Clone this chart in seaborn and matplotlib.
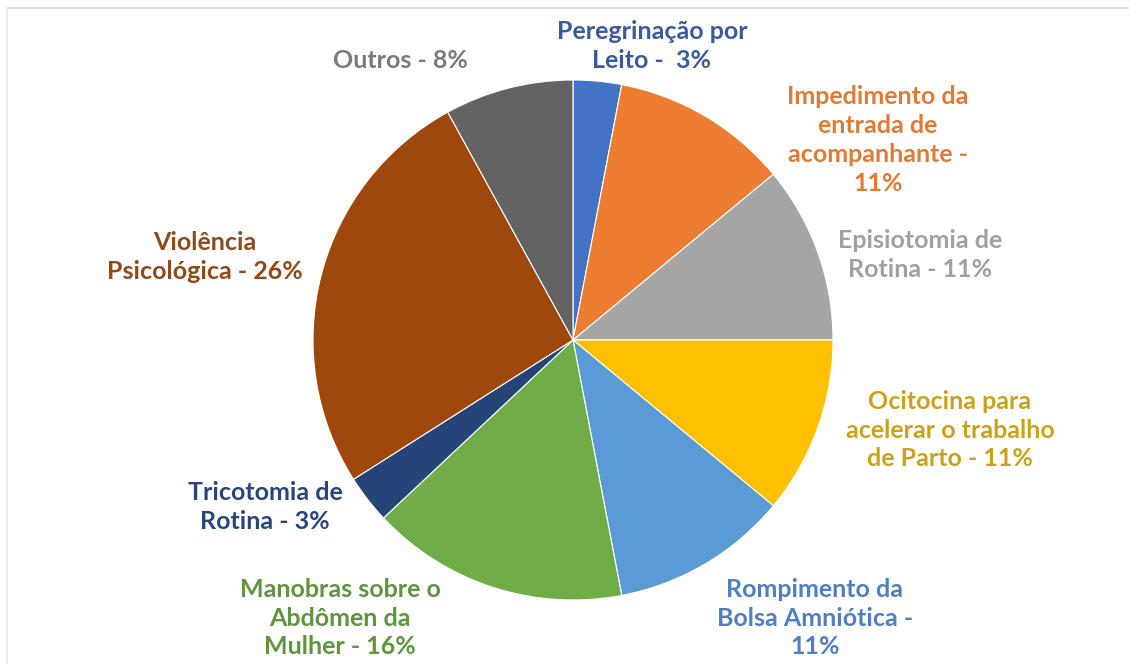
import matplotlib
matplotlib.use("Agg")
import matplotlib.pyplot as plt
import seaborn as sns

sns.set_style("white")
plt.rcParams['font.family'] = ['Lato', 'DejaVu Sans']

# ---- data ----
categories = [
    "Peregrinação por\nLeito -  3%",
    "Impedimento da\nentrada de\nacompanhante -\n11%",
    "Episiotomia de\nRotina - 11%",
    "Ocitocina para\nacelerar o trabalho\nde Parto - 11%",
    "Rompimento da\nBolsa Amniótica -\n11%",
    "Manobras sobre o\nAbdômen da\nMulher - 16%",
    "Tricotomia de\nRotina - 3%",
    "Violência\nPsicológica - 26%",
    "Outros - 8%",
]
values = [3, 11, 11, 11, 11, 16, 3, 26, 8]

slice_colors = ["#4472C4", "#ED7D31", "#A5A5A5", "#FFC000", "#5B9BD5",
                "#70AD47", "#264478", "#9E480E", "#636363"]
text_colors = ["#3B5A9E", "#E07A35", "#A0A0A0", "#C9A21A", "#4F7FC0",
               "#5F9440", "#2A457A", "#8E4A1A", "#7A7A7A"]
# label centre positions (pixels, origin bottom-left)
label_pos = [(652, 618), (878, 524), (920, 409), (950, 234), (815, 46),
             (340, 46), (265, 157), (205, 407), (400, 604)]

W, H = 1129, 664
fig = plt.figure(figsize=(W / 100, H / 100), dpi=100)
ax = fig.add_axes([0, 0, 1, 1])

ax.pie(values, colors=slice_colors, startangle=90, counterclock=False,
       center=(573, 324), radius=260,
       wedgeprops=dict(edgecolor="white", linewidth=0.8))

for lab, (x, y), c in zip(categories, label_pos, text_colors):
    ax.text(x, y, lab, ha="center", va="center", color=c, fontsize=18,
            fontweight="bold", linespacing=1.3)

ax.set_xlim(0, W)
ax.set_ylim(0, H)
ax.set_aspect("equal")
ax.axis("off")

# thin frame lines at top and left as in the reference
fig.add_artist(plt.Line2D([7 / W, 1], [1 - 8 / H, 1 - 8 / H], color="#d9d9d9", lw=1.2))
fig.add_artist(plt.Line2D([7 / W, 7 / W], [0, 1 - 8 / H], color="#e6e6e6", lw=1.2))

fig.savefig("out.png", dpi=100, facecolor="white")
